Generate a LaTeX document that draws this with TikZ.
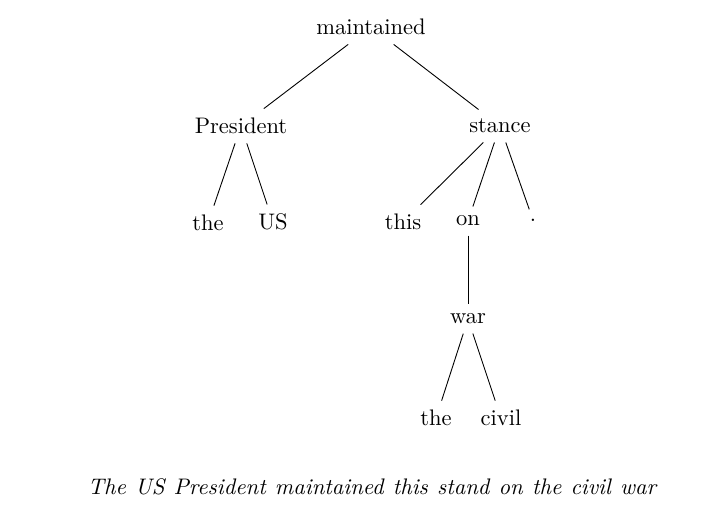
\documentclass[tikz,border=0pt]{standalone}
\begin{document}
\begin{tikzpicture}[x=0.4444pt,y=-0.4444pt,
  word/.style={inner sep=4pt, font=\normalsize},
  link/.style={draw=black, line width=0.4pt}]
\useasboundingbox (0,0) rectangle (704,510);
\node[word] (maintained) at (371,27) {maintained};
\node[word] (president) at (241,126) {President};
\node[word] (stance) at (500,126) {stance};
\node[word] (the1) at (208,223) {the};
\node[word] (us) at (273,222) {US};
\node[word] (this) at (403,222) {this};
\node[word] (on) at (468,221) {on};
\node[word] (dot) at (533,220) {.};
\node[word] (war) at (468,319) {war};
\node[word] (the2) at (436,418) {the};
\node[word] (civil) at (501,418) {civil};
\node (caption) at (372,487) {\itshape\spaceskip=4.1pt The US President maintained this stand on the civil war};
\draw[link] (maintained) -- (president);
\draw[link] (maintained) -- (stance);
\draw[link] (president) -- (the1);
\draw[link] (president) -- (us);
\draw[link] (stance) -- (this);
\draw[link] (stance) -- (on);
\draw[link] (stance) -- (dot);
\draw[link] (on) -- (war);
\draw[link] (war) -- (the2);
\draw[link] (war) -- (civil);
\end{tikzpicture}
\end{document}
